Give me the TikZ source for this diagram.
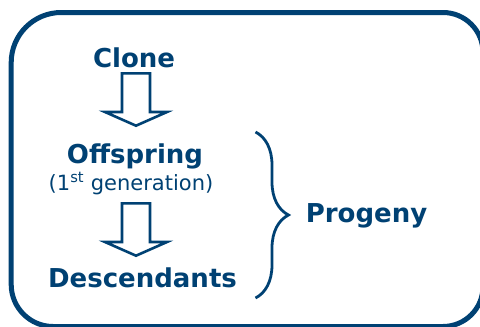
\documentclass[tikz,border=0pt]{standalone}
\usepackage{fontspec}
\setmainfont{DejaVu Sans}
\usetikzlibrary{decorations.pathreplacing}
\definecolor{navy}{RGB}{0,65,115}
\tikzset{
  boxline/.style={draw=navy, line width=5pt},
  arrowline/.style={draw=navy, fill=white, line width=2.6pt, line join=miter},
  bigtext/.style={text=navy, font=\fontsize{26}{30}\selectfont\bfseries, anchor=base, inner sep=0pt},
  smalltext/.style={text=navy, font=\fontsize{21}{25}\selectfont, anchor=base, inner sep=0pt},
  bracestyle/.style={draw=navy, line width=2.8pt, decorate, decoration={brace, amplitude=33pt}},
  blockarrow/.pic={
    \path[arrowline] (-14,1.3) -- (-14,40) -- (-31,40) -- (0,53.7) -- (31,40) -- (14,40) -- (14,1.3) -- cycle;
  }
}
\begin{document}
\begin{tikzpicture}[x=1pt, y=-1pt]
\useasboundingbox (0,0) rectangle (480,327);
\draw[boxline] (11.2,62.5) .. controls (11.2,34.9) and (33.6,12.5) .. (61.2,12.5)
  -- (443,12.5) .. controls (465.1,12.5) and (483,30.4) .. (483,52.5)
  -- (483,286.5) .. controls (483,308.6) and (465.1,326.5) .. (443,326.5)
  -- (53.2,326.5) .. controls (30,326.5) and (11.2,307.7) .. (11.2,284.5)
  -- cycle;
\node[bigtext] (clone) at (134,67) {Clone};
\node[bigtext] (off) at (135,163) {Offspring};
\node[smalltext] (gen) at (131,190) {(1\textsuperscript{st} generation)};
\node[bigtext] (desc) at (142.5,287) {Descendants};
\node[bigtext] (prog) at (366.5,222) {Progeny};
\pic (a1) at (136,72) {blockarrow};
\pic (a2) at (136,202) {blockarrow};
\coordinate (bt) at (255.5,132);
\coordinate (bb) at (255.5,298);
\draw[bracestyle] (bt) -- (bb);
\end{tikzpicture}
\end{document}
